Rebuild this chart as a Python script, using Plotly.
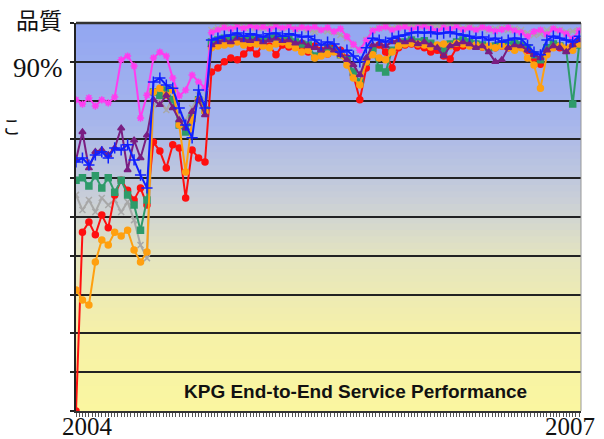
import plotly.graph_objects as go
import pandas as pd

# Biweekly sample dates, Jan 2004 - Dec 2006
dates = pd.date_range("2004-01-01", periods=79, freq="14D")

magenta = [80.2, 79.1, 80.7, 78.6, 80.2, 79.4, 80.9, 90.5, 91.5, 88.9, 75.5, 81.4, 91.0, 92.5, 91.5, 85.8, 81.2, 82.7, 86.6, 84.8, 83.2,
           97.5, 98.2, 98.8, 98.5, 99.0, 98.6, 99.2, 98.8, 99.0, 98.5, 99.1, 98.7, 99.0, 98.4, 98.9, 98.6, 99.0, 98.2, 98.8, 97.8,
           98.5, 96.5, 94.5, 93.0, 95.5, 98.0, 98.6, 99.0, 98.2, 98.7, 99.0, 98.4, 98.9, 99.1, 98.6, 98.0, 98.8, 98.5, 99.0, 98.3,
           98.7, 98.2, 98.9, 98.5, 97.9, 98.3, 98.8, 98.0, 97.5, 96.5, 97.8, 98.2, 97.0, 98.5, 98.0, 97.2, 96.0, 98.0]
blue = [64.2, 65.2, 63.4, 66.0, 66.8, 65.2, 67.8, 67.3, 68.6, 64.7, 60.8, 57.5, 84.8, 85.8, 84.0, 83.2, 78.1, 73.7, 70.4, 82.7, 78.1,
        95.6, 96.1, 96.6, 96.9, 97.4, 96.6, 97.2, 96.9, 96.4, 97.2, 97.4, 96.6, 97.2, 96.9, 96.4, 96.6, 95.6, 94.3, 95.1, 94.6,
        92.5, 93.0, 91.5, 90.0, 93.6, 96.1, 95.6, 95.1, 96.1, 96.6, 96.9, 97.4, 97.7, 97.4, 97.7, 97.2, 97.4, 97.7, 97.2, 96.9,
        96.6, 96.1, 96.4, 95.6, 96.1, 95.1, 95.6, 96.1, 95.9, 94.3, 92.5, 91.8, 95.6, 96.6, 96.1, 95.6, 95.1, 96.6]
purple = [64.7, 71.9, 62.6, 66.8, 67.3, 66.0, 67.8, 72.9, 62.1, 69.8, 65.2, 71.1, 80.2, 78.9, 81.4, 78.1, 75.0, 72.9, 77.1, 80.2, 76.3,
          94.3, 95.1, 95.6, 95.1, 96.1, 95.6, 95.4, 95.9, 95.1, 95.6, 96.1, 95.4, 95.6, 94.8, 95.1, 94.1, 93.6, 93.0, 93.8, 93.0,
          91.8, 90.5, 89.2, 86.6, 91.0, 94.3, 94.6, 94.1, 95.1, 95.6, 95.1, 95.6, 94.6, 95.1, 94.3, 93.6, 91.5, 94.1, 94.6, 95.1,
          94.6, 93.6, 94.1, 92.5, 90.0, 90.5, 93.6, 94.3, 94.1, 93.0, 91.8, 91.0, 93.0, 94.1, 93.6, 92.5, 94.3, 95.6]
green = [59.5, 60.1, 58.0, 60.6, 57.5, 60.1, 56.4, 59.5, 55.7, 53.1, 46.6, 54.4, 82.2, 81.4, 82.7, 80.2, 73.7, 71.9, 75.5, 80.2, 77.6,
         95.1, 95.6, 96.1, 95.6, 96.4, 95.9, 96.1, 95.6, 95.4, 96.1, 96.4, 95.6, 95.9, 95.1, 94.6, 94.3, 91.5, 92.5, 93.6, 93.0,
         91.8, 90.5, 87.4, 84.8, 90.0, 93.0, 88.4, 87.4, 93.0, 94.3, 95.1, 95.6, 95.1, 95.4, 94.8, 94.1, 93.0, 94.6, 95.1, 95.6,
         95.1, 94.6, 94.3, 93.6, 94.1, 94.6, 94.3, 94.8, 94.3, 93.6, 91.8, 90.5, 93.6, 94.6, 94.1, 93.0, 79.1, 94.3]
grey = [55.7, 51.8, 54.4, 51.3, 54.9, 53.1, 54.4, 51.3, 53.9, 49.2, 42.8, 39.4, 78.9, 80.2, 77.6, 80.7, 76.3, 75.0, 78.1, 81.4, 80.2,
        98.2, 98.7, 99.0, 98.7, 99.2, 99.0, 98.7, 99.0, 98.7, 99.2, 99.0, 98.7, 99.0, 98.5, 98.7, 98.2, 97.7, 98.2, 97.9, 97.7,
        96.9, 96.1, 94.3, 93.0, 95.6, 98.2, 98.7, 99.0, 98.7, 99.2, 99.5, 99.2, 99.5, 99.2, 99.5, 99.2, 99.0, 99.2, 99.0, 98.7,
        99.0, 98.5, 98.7, 98.2, 98.5, 98.7, 98.2, 98.5, 98.2, 97.4, 96.9, 97.2, 98.2, 98.5, 98.2, 97.7, 97.9, 98.2]
red = [0.0, 46.1, 48.7, 45.4, 50.5, 47.2, 55.7, 59.5, 56.9, 54.4, 57.5, 53.1, 69.3, 67.0, 62.6, 68.6, 67.8, 54.9, 67.3, 65.2, 64.2,
       87.4, 88.4, 90.0, 91.0, 90.5, 92.0, 93.6, 92.0, 94.6, 94.1, 91.8, 94.3, 93.8, 94.6, 93.6, 92.5, 94.1, 93.0, 92.0, 93.6,
       93.0, 91.0, 86.6, 80.2, 88.4, 93.0, 94.3, 92.5, 88.4, 93.6, 94.3, 94.6, 94.1, 93.6, 92.5, 93.0, 91.5, 90.7, 93.6, 94.1,
       94.3, 94.1, 93.8, 93.8, 93.6, 94.1, 93.6, 94.3, 93.8, 93.0, 91.0, 89.4, 93.0, 94.1, 93.6, 93.0, 94.1, 94.6]
orange = [31.2, 28.6, 27.3, 38.4, 44.1, 42.8, 46.1, 45.1, 46.6, 41.5, 38.4, 41.0, 82.2, 83.2, 81.4, 82.7, 73.7, 61.6, 75.0, 80.2, 77.1,
          93.6, 94.1, 94.3, 94.6, 95.1, 94.3, 94.8, 94.6, 94.1, 93.6, 94.6, 95.1, 94.3, 93.6, 92.5, 93.0, 91.0, 91.5, 92.0, 92.5,
          91.8, 89.2, 85.8, 84.0, 90.0, 91.8, 91.0, 90.5, 92.5, 94.1, 94.6, 94.8, 94.6, 94.3, 93.8, 94.3, 94.6, 94.1, 94.8, 94.6,
          94.1, 94.3, 93.8, 94.1, 93.6, 94.1, 93.6, 93.0, 93.6, 91.0, 89.2, 83.2, 91.8, 93.6, 94.1, 93.6, 93.0, 94.6]

series = [
    ("grey", grey, "#A8A8A8", "x-thin", 6),
    ("red", red, "#FF1010", "circle", 6),
    ("green", green, "#2E9B6A", "square", 6),
    ("orange", orange, "#FFA010", "circle", 6),
    ("purple", purple, "#7A1E82", "triangle-up", 6),
    ("magenta", magenta, "#FF3CF0", "asterisk", 6),
    ("blue", blue, "#1020FF", "cross-thin", 8),
]

fig = go.Figure()
for name, vals, col, sym, msize in series:
    fig.add_trace(go.Scatter(
        x=dates, y=vals, mode="lines+markers", name=name,
        line=dict(color=col, width=2),
        marker=dict(symbol=sym, size=msize, color=col, line=dict(color=col, width=1.5)),
    ))

# background gradient (blue top -> yellow bottom)
stops = [(0.0, (250, 246, 160)), (0.2, (246, 241, 168)), (0.4, (228, 228, 192)),
         (0.55, (200, 206, 216)), (0.75, (166, 181, 236)), (1.0, (146, 166, 242))]
def colat(f):
    for (f0, c0), (f1, c1) in zip(stops[:-1], stops[1:]):
        if f0 <= f <= f1:
            t = (f - f0) / (f1 - f0)
            return "rgb(%d,%d,%d)" % tuple(round(a + (b - a) * t) for a, b in zip(c0, c1))
    return "rgb(%d,%d,%d)" % stops[-1][1]
n = 60
shapes = []
for k in range(n):
    shapes.append(dict(type="rect", xref="paper", yref="paper", x0=0, x1=1,
                       y0=k / n, y1=(k + 1) / n + 0.002, line=dict(width=0),
                       fillcolor=colat((k + 0.5) / n), layer="below"))
shapes.append(dict(type="line", xref="paper", yref="paper", x0=1, x1=1, y0=0, y1=1,
                   line=dict(color="#999999", width=1)))
shapes.append(dict(type="line", xref="paper", yref="paper", x0=0, x1=1, y0=1, y1=1,
                   line=dict(color="#333333", width=2.5)))

serif = "Liberation Serif, DejaVu Serif, serif"
cjk = "Noto Sans CJK JP"
def ann(text, x, y, font, xanchor="center"):
    return dict(text=text, x=x, y=y, xref="paper", yref="paper", showarrow=False,
                xanchor=xanchor, yanchor="middle", font=font)
annotations = [
    ann("品質", -0.0733, 1.0103, dict(family=cjk, size=23, color="#111")),
    ann("90%", -0.022, 0.884, dict(family=serif, size=27, color="#111"), "right"),
    ann("こ", -0.105, 0.737, dict(family=cjk, size=19, color="#111"), "right"),
    ann("2004", 0.0218, -0.04, dict(family=serif, size=25, color="#111")),
    ann("2007", 0.978, -0.04, dict(family=serif, size=25, color="#111")),
    ann("<b>KPG End-to-End Service Performance</b>", 0.5525, 0.049,
        dict(family="Liberation Sans, Arial, sans-serif", size=19, color="#111")),
]

fig.update_layout(
    width=604, height=439,
    margin=dict(l=76, r=23, t=23, b=28),
    paper_bgcolor="white", plot_bgcolor="rgba(0,0,0,0)",
    showlegend=False, shapes=shapes, annotations=annotations,
    xaxis=dict(range=[pd.Timestamp("2004-01-01"), pd.Timestamp("2007-01-01")],
               showgrid=False, zeroline=False, showticklabels=False,
               showline=True, linecolor="#333333", linewidth=2,
               tickmode="linear", tick0="2004-01-01", dtick=7 * 86400000,
               ticks="outside", ticklen=4, tickcolor="#555555", tickwidth=1),
    yaxis=dict(range=[0, 100], dtick=10, showgrid=True, gridcolor="#222222",
               gridwidth=2, zeroline=False, showticklabels=False,
               ticks="outside", ticklen=4, tickcolor="#222222", tickwidth=2,
               showline=True, linecolor="#222222", linewidth=2),
)

fig.write_html("out.html", config={"displayModeBar": False},
               post_script="document.body.style.margin='0';")
